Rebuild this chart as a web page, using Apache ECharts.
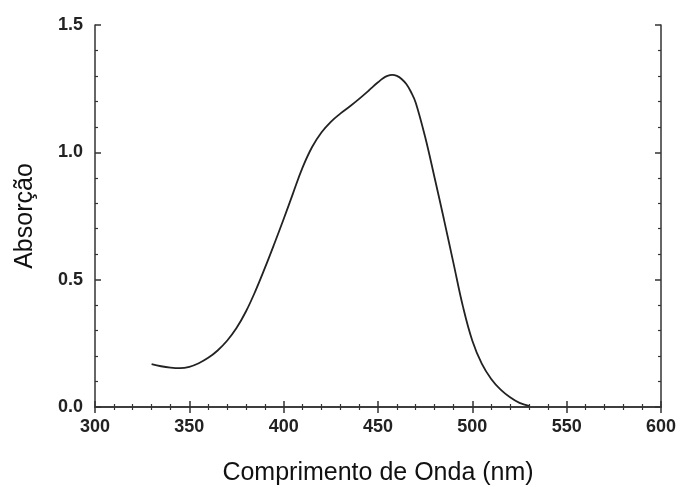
<!DOCTYPE html>
<html>
<head>
<meta charset="utf-8">
<script src="https://cdn.jsdelivr.net/npm/echarts@6/dist/echarts.min.js"></script>
<style>
  html, body { margin: 0; padding: 0; background: #fff; }
  #chart { width: 681px; height: 487px; }
</style>
</head>
<body>
<div id="chart"></div>
<script>
  // comprimento de onda (nm) e absorção
  var wavelength = [330, 335, 340, 345, 350, 355, 360, 365, 370, 375, 380, 385, 390, 395, 400,
    405, 410, 415, 420, 425, 430, 435, 440, 445, 447.5, 450, 452.5, 455, 457.5, 460, 462.5, 465, 467.5, 470, 475, 480,
    485, 490, 495, 500, 505, 510, 515, 520, 525, 530]
  var absorbance = [0.168, 0.16, 0.155, 0.153, 0.158, 0.172, 0.193, 0.222, 0.26, 0.31, 0.375, 0.455, 0.545, 0.64, 0.738,
    0.84, 0.94, 1.02, 1.078, 1.12, 1.152, 1.18, 1.21, 1.242, 1.259, 1.275, 1.29, 1.3, 1.304, 1.3, 1.288, 1.268, 1.237, 1.195, 1.06, 0.9,
    0.735, 0.565, 0.395, 0.26, 0.17, 0.11, 0.068, 0.038, 0.016, 0.004]

  var points = wavelength.map(function (w, i) { return [w, absorbance[i]] })

  var lineColor = '#333'
  var font = 'Liberation Sans'

  function axisBase (extra) {
    var a = {
      type: 'value',
      axisLine: { show: true, lineStyle: { color: lineColor, width: 1.5 } },
      axisTick: { show: true, inside: true, length: 6, lineStyle: { color: lineColor, width: 1.5 } },
      minorTick: { show: true, splitNumber: 5, length: 3, lineStyle: { color: lineColor, width: 1.2 } },
      splitLine: { show: false },
      axisLabel: { show: false }
    }
    for (var k in extra) a[k] = extra[k]
    return a
  }

  var labelStyle = { show: true, color: '#222', fontFamily: font, fontSize: 18, fontWeight: 'bold', margin: 11 }

  var myChart = echarts.init(document.getElementById('chart'))
  myChart.setOption({
    animation: false,
    grid: { left: 95, right: 20, top: 25, bottom: 80, containLabel: false, outerBoundsMode: 'none' },
    xAxis: [
      axisBase({ min: 300, max: 600, interval: 50, position: 'bottom',
        axisLabel: labelStyle,
        name: 'Comprimento de Onda (nm)', nameLocation: 'middle', nameGap: 54,
        nameTextStyle: { color: '#111', fontFamily: font, fontSize: 25 } }),
      axisBase({ min: 300, max: 600, interval: 50, position: 'top' })
    ],
    yAxis: [
      axisBase({ min: 0, max: 1.5, interval: 0.5, position: 'left',
        axisLabel: Object.assign({}, labelStyle, { margin: 12, formatter: function (v) { return v.toFixed(1) } }),
        name: 'Absorção', nameLocation: 'middle', nameGap: 57,
        nameTextStyle: { color: '#111', fontFamily: font, fontSize: 25 } }),
      axisBase({ min: 0, max: 1.5, interval: 0.5, position: 'right' })
    ],
    series: [
      {
        type: 'line',
        data: points,
        smooth: 0.4,
        showSymbol: false,
        lineStyle: { color: '#222', width: 1.8 }
      }
    ]
  })
</script>
</body>
</html>
